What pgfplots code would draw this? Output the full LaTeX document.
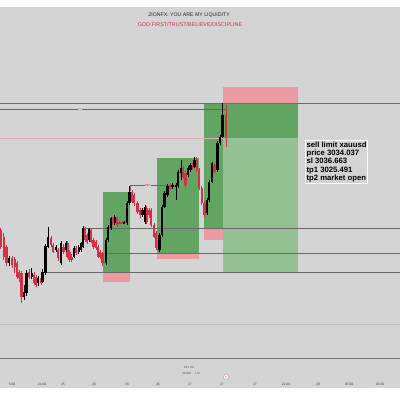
\documentclass[border=0pt]{standalone}
\usepackage{pgfplots}
\pgfplotsset{compat=1.18}
\usepackage{pgfplotstable}
\usepackage{fontspec}
\setmainfont{Liberation Sans}
\definecolor{bg}{RGB}{212,212,212}
\definecolor{cred}{RGB}{214,48,68}
\definecolor{gdark}{RGB}{98,164,98}
\definecolor{glight}{RGB}{148,192,148}
\definecolor{pinkz}{RGB}{234,154,160}
\definecolor{lgray}{RGB}{105,105,105}

\pgfplotstableread{
x bt bb wt wb
0.8 230 246.7 228 249
3.7 236.7 256.7 233 260
6.5 246.7 263.3 245 266
11.8 258 265 256 268
14.7 259.3 266.7 257 273
16.8 263.3 276.7 261 279
19.2 271.7 278.3 270 282
21.5 273.3 296.7 271 303
29.2 271.7 276.7 269 279
33.8 275 283.3 272 285
35.8 276.7 285 275 287
40.8 278.3 283.3 276 285
50.8 238.3 245 236 247
53.3 245 251.7 243 253
58.2 250 258.3 248 261
63.5 246.7 251.7 244 254
67.5 243.3 256.7 241 258
69.5 251.7 260 250 262
71.7 256.7 260 254 262
76.2 248.3 253.3 246 255
85 228.3 240 227 242
87.2 235 241.7 233 244
91.3 230 241.7 228 243
93.5 240 246.7 238 249
95.8 241.7 248.3 240 250
98.3 246.7 256.7 245 258
100.2 251.7 256.7 250 259
102.5 253.3 263.3 252 266
112.5 218.3 223.3 217 225
116.8 218.3 225 217 227
119.5 221.7 223.3 221 224
122.5 221.7 223.3 221 224
132.2 191.7 201.7 190 203
134.2 195 203.3 193 206
137.5 203.3 211.7 201 214
140.5 210 215 208 218
146.5 208.3 221.7 206 224
149.2 210 215 208 218
151.3 210 225 208 227
153.8 225 236.7 223 238
156.2 233.3 248.3 231 250
170.2 185 188.3 183 190
183.3 168.3 176.7 166 179
185.5 173.3 185 171 187
192.5 165 168.3 163 170
196.7 160 170 157 172
199.2 170 188.3 168 190
201.7 188.3 203.3 186 205
204.5 203.3 215 201 217
214.5 165 171.7 163 174
226 115 137 105 147
}\redc

\pgfplotstableread{
x bt bb wt wb
9.2 258.3 263.3 256 266
24.2 291.7 296.7 285 300
26.5 273.3 293.3 270 296
31.7 273.3 276.7 268 279
38.3 278.3 283.3 276 286
42.5 271.7 281.7 269 283
45.5 246 273.3 244 275
48.3 236.7 246.7 227 248
55.8 246.7 250 245 252
60.8 243.3 263.3 241 265
65.8 243.3 250 241 252
74.2 248.3 256.7 246 258
78.7 246.7 251.7 245 254
80.8 243.3 250 242 252
82.8 228.3 246.7 226 248
89.2 229.3 240 228 242
105.8 240 263.3 238 265
108.3 226.7 240 225 242
110.8 218.3 228.3 217 230
114.7 216.7 223.3 215 225
124.2 221.7 223.3 221 224
127.2 203.3 223.3 201 225
129.5 191.7 203.3 186 205
142.5 210 215 208 217
144.8 206.7 221.7 205 224
159.5 235 250 233 252
162.3 206.7 235 205 237
164.5 193.3 206.7 191 208
167.5 186 195 184 197
172.5 185 187.3 183 189
175.8 185.3 186.7 183 200
178 171.7 186 170 188
181.2 168.3 173.3 160 180
187.8 168.3 175 166 177
190.5 165 170 163 172
194.5 160 166.7 157 168
206.8 200 213.3 198 215
209.2 181.7 200 180 202
211.8 163.3 181.7 162 183
217.5 143.3 170 141 172
219.8 136.7 143.3 135 145
222.5 115 136.7 103 138
}\blackc

\newcommand{\zone}[5]{\addplot[fill=#5, draw=none] coordinates {(#1,#2) (#3,#2) (#3,#4) (#1,#4)} -- cycle;}
\newcommand{\hlev}[4]{\addplot[draw=#4, line width=0.7pt] coordinates {(#1,#3) (#2,#3)};}

\begin{document}
\begin{tikzpicture}
\begin{axis}[width=400pt, height=399pt, scale only axis,
  xmin=0, xmax=400, ymin=0, ymax=399, y dir=reverse, hide axis, clip=false]
\fill[white] (axis cs:0,0) rectangle (axis cs:400,399);
\fill[bg] (axis cs:0,7) rectangle (axis cs:400,388);

% zones
\zone{103}{192}{130}{272}{gdark}
\zone{103}{272}{130}{282}{pinkz}
\zone{157}{158}{199}{253}{gdark}
\zone{157}{253}{199}{259}{pinkz}
\zone{204}{103}{223}{228}{gdark}
\zone{204}{228}{223}{240}{pinkz}
\zone{223}{87}{298}{103}{pinkz}
\zone{223}{103}{298}{138}{gdark}
\zone{223}{138}{298}{272}{glight}

% horizontal levels
\addplot[draw=gray!85!black, line width=1.1pt] coordinates {(0,103.5) (400,103.5)};
\hlev{0}{226}{109}{gray!80!black}
\addplot[draw=cred!22!bg, line width=0.6pt] coordinates {(0,138) (223,138)};
\hlev{82}{400}{228.5}{lgray}
\hlev{105}{400}{253}{lgray}
\hlev{44}{400}{272}{lgray}
\addplot[draw=lgray, line width=0.6pt] coordinates {(130,191) (130,185.5) (177,185.5)};
\addplot[draw=gray!50, line width=0.5pt] coordinates {(0,324) (400,324)};
\addplot[draw=gray!90!black, line width=1pt] coordinates {(0,358) (400,358)};

% candles: wicks then bodies
\addplot[draw=none, mark=none, error bars/.cd, y dir=both, y explicit, error mark=none,
  error bar style={draw=cred, line width=0.6pt, solid}]
  table[x=x, y expr={(\thisrow{wt}+\thisrow{wb})/2}, y error expr={(\thisrow{wb}-\thisrow{wt})/2}] {\redc};
\addplot[draw=none, mark=none, error bars/.cd, y dir=both, y explicit, error mark=none,
  error bar style={draw=cred, line width=2.1pt, solid}]
  table[x=x, y expr={(\thisrow{bt}+\thisrow{bb})/2}, y error expr={(\thisrow{bb}-\thisrow{bt})/2}] {\redc};
\addplot[draw=none, mark=none, error bars/.cd, y dir=both, y explicit, error mark=none,
  error bar style={draw=black, line width=0.6pt, solid}]
  table[x=x, y expr={(\thisrow{wt}+\thisrow{wb})/2}, y error expr={(\thisrow{wb}-\thisrow{wt})/2}] {\blackc};
\addplot[draw=none, mark=none, error bars/.cd, y dir=both, y explicit, error mark=none,
  error bar style={draw=black, line width=2.1pt, solid}]
  table[x=x, y expr={(\thisrow{bt}+\thisrow{bb})/2}, y error expr={(\thisrow{bb}-\thisrow{bt})/2}] {\blackc};

% small labels on levels
\node[fill=bg, inner sep=0.5pt, text=cred!70, font=\fontsize{3}{3}\selectfont] at (axis cs:80,109) {31};
\node[fill=bg, inner sep=0.5pt, text=cred, font=\fontsize{3}{3}\selectfont] at (axis cs:148,185.5) {BE1};

% titles
\node[font=\fontsize{5.2}{5.5}\selectfont, text=black!85] at (axis cs:189,15) {ZIONFX: YOU ARE MY LIQUIDITY};
\node[font=\fontsize{5.4}{5.6}\selectfont, text=cred] at (axis cs:190,25) {GOD FIRST/TRUST/BELIEVE/DISCIPLINE};

% text box
\node[draw=white!92!bg, line width=0.8pt, fill=bg, anchor=north west, inner xsep=1.2pt, inner ysep=1.2pt,
  align=left, font=\fontsize{7.7}{8.3}\selectfont\bfseries] at (axis cs:305,140)
  {sell limit xauusd\\price 3034.037\\sl 3036.663\\tp1 3025.491\\tp2 market open};

% bottom info
\node[font=\fontsize{3}{3}\selectfont, text=gray!70!black] at (axis cs:189,367) {20:1:08};
\node[font=\fontsize{3}{3}\selectfont, text=gray!70!black] at (axis cs:191,373.5) {40,000 \quad 1\,M};
\node[draw=cred!50, fill=white, circle, inner sep=0pt, minimum size=5pt, line width=0.5pt,
  font=\fontsize{3}{3}\selectfont, text=cred] at (axis cs:226,377) {5};
\foreach \xx/\ll in {12/5:00, 42/21:00, 63/25, 94/26, 127/26, 158/26, 190/27, 222/27, 255/27, 286/21:00, 318/28, 349/05:00, 380/06:00}{
  \edef\tmp{\noexpand\node[font=\noexpand\fontsize{3.3}{3.3}\noexpand\selectfont, text=black!75] at (axis cs:\xx,384) {\ll};}\tmp
}
\end{axis}
\pgfresetboundingbox
\path[use as bounding box] (current axis.south west) rectangle (current axis.north east);
\end{tikzpicture}
\end{document}
